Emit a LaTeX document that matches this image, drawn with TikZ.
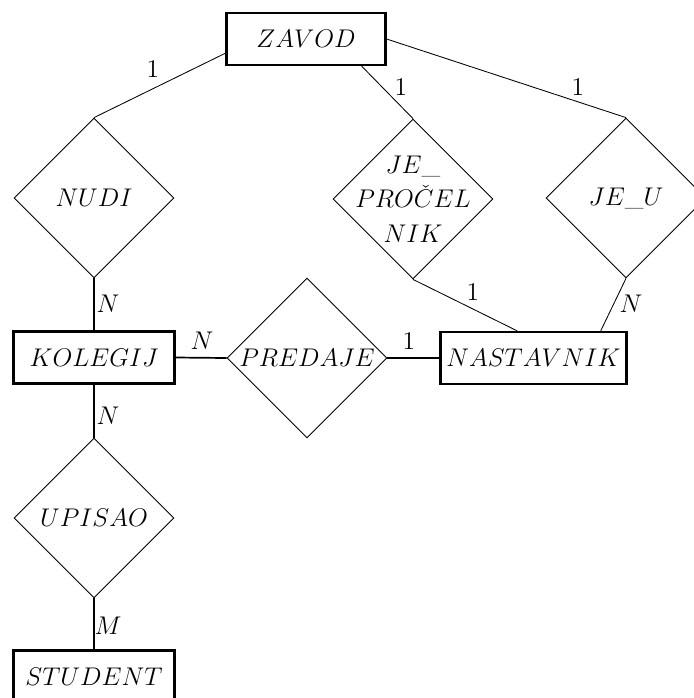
\documentclass[12pt,tikz,border=0pt]{standalone}
\usetikzlibrary{shapes.geometric}
\begin{document}
\begin{tikzpicture}[x=0.4695pt,y=-0.4695pt,
  entity/.style={draw,rectangle,line width=1.2pt,inner sep=0pt,minimum width=75.4pt,minimum height=24.3pt},
  rel/.style={draw,diamond,line width=0.4pt,inner sep=0pt,minimum width=75.1pt,minimum height=75.1pt},
  thinc/.style={line width=0.4pt},
  thickc/.style={line width=0.8pt},
  card/.style={inner sep=0pt}]
\useasboundingbox (0,0) rectangle (694,698);
\clip (0,0) rectangle (694,698);
% entities
\node[entity,minimum width=74.5pt] (zavod) at (306,39) {$ZAVOD$};
\node[entity] (kolegij) at (94,357.5) {$KOLEGIJ$};
\node[entity,minimum width=87.2pt] (nastavnik) at (533.5,358) {$NASTAVNIK$};
\node[entity] (student) at (94,676.5) {$STUDENT$};
% relationships
\node[rel] (nudi) at (94,198) {$NUDI$};
\node[rel,align=center,inner sep=-7pt] (jeproc) at (413,199) {$JE\_$\\[1.6pt]$PRO\check{C}EL$\\[1.6pt]$NIK$};
\node[rel] (jeu) at (626,198) {$JE\_U$};
\node[rel] (predaje) at (307,358) {$PREDAJE$};
\node[rel] (upisao) at (94,518) {$UPISAO$};
% connectors
\draw[thinc] (zavod.190) -- (nudi.north);
\draw[thinc] (zavod.334) -- (jeproc.north);
\draw[thinc] (zavod.east) -- (jeu.north);
\draw[thinc] (jeproc.south) -- (nastavnik.121);
\draw[thinc] (jeu.south) -- (nastavnik.22);
\draw[thickc] (nudi.south) -- (kolegij.north);
\draw[thickc] (kolegij.east) -- (predaje.west);
\draw[thickc] (predaje.east) -- (nastavnik.west);
\draw[thickc] (kolegij.south) -- (upisao.north);
\draw[thickc] (upisao.south) -- (student.north);
% cardinalities
\node[card] (c1) at (153,69) {$1$};
\node[card] (c2) at (401,87) {$1$};
\node[card] (c3) at (578,87) {$1$};
\node[card] (c4) at (108,304) {$N$};
\node[card] (c5) at (202,341) {$N$};
\node[card] (c6) at (409,341) {$1$};
\node[card] (c7) at (473,292) {$1$};
\node[card] (c8) at (631,304) {$N$};
\node[card] (c9) at (108,416) {$N$};
\node[card] (c10) at (108,626) {$M$};
\end{tikzpicture}
\end{document}
